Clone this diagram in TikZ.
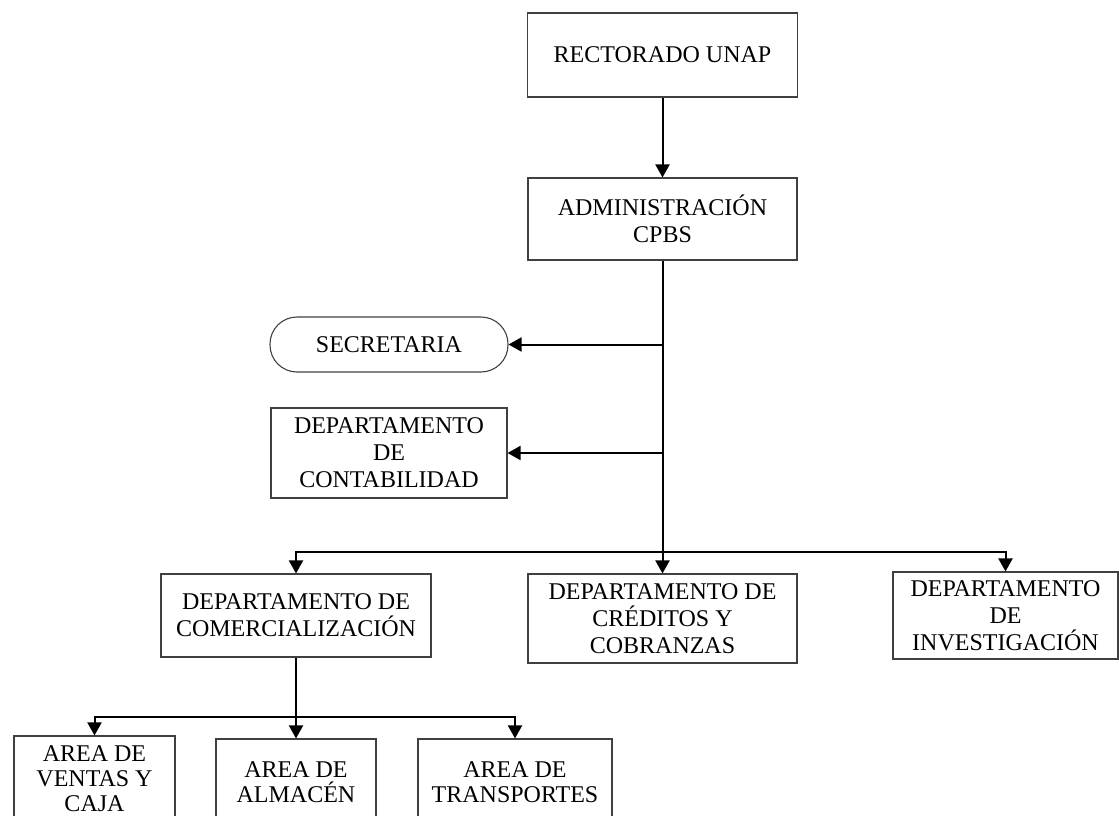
\documentclass[tikz,border=0pt]{standalone}
\usepackage{fontspec}
\setmainfont{Liberation Serif}
\usetikzlibrary{arrows.meta}
\tikzset{
	unit/.style={draw=black!75, line width=1.1pt, align=center, inner sep=2pt,
		font=\fontsize{24}{27}\selectfont},
	area/.style={unit, minimum height=86pt, font=\fontsize{24}{25}\selectfont},
	conn/.style={line width=2pt, -{Triangle[width=14pt,length=13pt]}},
}

\begin{document}
\begin{tikzpicture}[x=1pt,y=-1pt]
		\useasboundingbox (0,0) rectangle (1119,816);
		\node[unit, minimum width=270pt, minimum height=84pt] (rector) at (662.5,55) {RECTORADO UNAP};
		\node[unit, minimum width=269pt, minimum height=82pt] (admin) at (662.5,219) {ADMINISTRACIÓN\\CPBS};
		\node[unit, rounded corners=27pt, minimum width=238pt, minimum height=55pt] (secre) at (389,344.5) {SECRETARIA};
		\node[unit, minimum width=236pt, minimum height=90pt] (conta) at (389,453) {DEPARTAMENTO\\DE\\CONTABILIDAD};
		\node[unit, minimum width=270pt, minimum height=83pt] (comer) at (296,615.5) {DEPARTAMENTO DE\\COMERCIALIZACIÓN};
		\node[unit, minimum width=269pt, minimum height=89pt] (cred) at (662.5,618.5) {DEPARTAMENTO DE\\CRÉDITOS Y\\COBRANZAS};
		\node[unit, minimum width=225pt, minimum height=87pt] (inv) at (1005.5,615.5) {DEPARTAMENTO\\DE\\INVESTIGACIÓN};
		\node[area, minimum width=161pt] (ventas) at (94.5,779) {AREA DE\\VENTAS Y\\CAJA};
		\node[area, minimum width=160pt] (alm) at (296,782) {AREA DE\\ALMACÉN};
		\node[area, minimum width=194pt] (transp) at (515,782) {AREA DE\\TRANSPORTES};
		% junctions on the trunks
		\coordinate (jsec) at (admin.south |- secre.east);
		\coordinate (jcon) at (admin.south |- conta.east);
		\coordinate (jdep) at (662.5,552);
		\coordinate (jarea) at (296,717);
		\path[conn]
			(rector) edge (admin)
			(admin) edge (cred)
			(jsec) edge (secre)
			(jcon) edge (conta)
			(comer) edge (alm);
		\draw[conn] (jdep) -| (comer);
		\draw[conn] (jdep) -| (inv);
		\draw[conn] (jarea) -| (ventas);
		\draw[conn] (jarea) -| (transp);
\end{tikzpicture}
\end{document}
